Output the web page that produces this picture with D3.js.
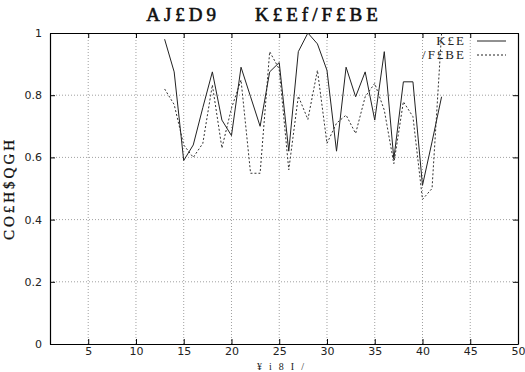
<!DOCTYPE html>
<html><head><meta charset="utf-8">
<script src="https://cdn.jsdelivr.net/npm/d3@7"></script>
<style>body{margin:0;background:#fff}svg{display:block}</style>
</head><body>
<script>
const titleText = "AJ£D9\u00a0\u00a0\u00a0\u00a0K£Ef/F£BE";
const xLabelText = "¥i8I/";
const yLabelText = "CO£H$QGH";
const seriesNames = ["K£E", "/F£BE"];
const xValues = [13,14,15,16,17,18,19,20,21,22,23,24,25,26,27,28,29,30,31,32,33,34,35,36,37,38,39,40,41,42];
const solidValues = [0.98,0.875,0.59,0.64,0.76,0.875,0.72,0.67,0.89,0.795,0.70,0.875,0.905,0.62,0.94,1.0,0.965,0.88,0.62,0.89,0.795,0.875,0.72,0.94,0.595,0.843,0.843,0.51,0.65,0.795];
const dottedValues = [0.82,0.77,0.64,0.60,0.645,0.833,0.63,0.758,0.849,0.549,0.549,0.94,0.884,0.56,0.797,0.722,0.88,0.645,0.71,0.736,0.677,0.795,0.838,0.752,0.58,0.779,0.731,0.465,0.50,1.0];
const xTicks = [5,10,15,20,25,30,35,40,45,50];
const yTicks = [0,0.2,0.4,0.6,0.8,1];

const W = 525, H = 372;
const m = {l:50, r:7, t:33, b:28};
const svg = d3.select("body").append("svg").attr("width", W).attr("height", H);
const x = d3.scaleLinear().domain([1,50]).range([m.l, W - m.r]);
const y = d3.scaleLinear().domain([0,1]).range([H - m.b, m.t]);

// grid
const g = svg.append("g");
g.selectAll(".gx").data(xTicks.filter(d => d < 50)).join("line")
  .attr("x1", d => x(d)).attr("x2", d => x(d)).attr("y1", y(0)).attr("y2", y(1))
  .attr("stroke", "#a0a0a0").attr("stroke-width", 1).attr("stroke-dasharray", "1,2");
g.selectAll(".gy").data(yTicks.filter(d => d > 0 && d < 1)).join("line")
  .attr("x1", x(1)).attr("x2", x(50)).attr("y1", d => y(d)).attr("y2", d => y(d))
  .attr("stroke", "#a0a0a0").attr("stroke-width", 1).attr("stroke-dasharray", "1,2");

// axes
const fmt = d3.format("");
svg.append("g").attr("transform", `translate(0,${y(0)})`)
  .call(d3.axisBottom(x).tickValues(xTicks).tickSizeInner(-5).tickSizeOuter(0).tickPadding(3).tickFormat(fmt));
svg.append("g").attr("transform", `translate(0,${y(1)})`)
  .call(d3.axisTop(x).tickValues(xTicks).tickSizeInner(-5).tickSizeOuter(0).tickFormat(""));
svg.append("g").attr("transform", `translate(${x(1)},0)`)
  .call(d3.axisLeft(y).tickValues(yTicks).tickSizeInner(-5).tickSizeOuter(0).tickPadding(8).tickFormat(fmt));
svg.append("g").attr("transform", `translate(${x(50)},0)`)
  .call(d3.axisRight(y).tickValues(yTicks).tickSizeInner(-5).tickSizeOuter(0).tickFormat(""));
svg.selectAll(".domain").attr("stroke", "#000").attr("stroke-width", 1.2);
svg.selectAll(".tick line").attr("stroke", "#000");
svg.selectAll(".tick text").attr("font-family", "DejaVu Sans").attr("font-size", 11).attr("fill", "#222");

// lines
const line = d3.line().x((d,i) => x(xValues[i])).y(d => y(d));
svg.append("clipPath").attr("id","c").append("rect")
  .attr("x", x(1)).attr("y", y(1)).attr("width", x(50)-x(1)).attr("height", y(0)-y(1));
svg.append("path").datum(dottedValues).attr("d", line).attr("fill","none")
  .attr("stroke","#333").attr("stroke-width",1).attr("stroke-dasharray","2,2").attr("clip-path","url(#c)");
svg.append("path").datum(solidValues).attr("d", line).attr("fill","none")
  .attr("stroke","#222").attr("stroke-width",1).attr("clip-path","url(#c)");

// legend
const legY = [41, 55];
const dashes = [null, "2,2"];
seriesNames.forEach((n, i) => {
  svg.append("text").attr("x", 466).attr("y", legY[i] + 4).attr("text-anchor","end")
    .attr("font-family","Liberation Serif").attr("font-size", 13).attr("letter-spacing", 2)
    .attr("fill","#222").text(n);
  svg.append("line").attr("x1", 477).attr("x2", 506).attr("y1", legY[i]).attr("y2", legY[i])
    .attr("stroke","#222").attr("stroke-width",1).attr("stroke-dasharray", dashes[i]);
});

// labels
svg.append("text").attr("x", 264).attr("y", 21).attr("text-anchor","middle")
  .attr("font-family","Liberation Serif").attr("font-size", 19)
  .attr("stroke","#111").attr("stroke-width",0.6)
  .attr("letter-spacing", 4).attr("fill","#111").text(titleText);
svg.append("text").attr("x", 284).attr("y", 369.5).attr("text-anchor","middle")
  .attr("font-family","Liberation Serif").attr("font-size", 10).attr("letter-spacing", 7)
  .attr("fill","#222").text(xLabelText);
svg.append("text").attr("transform", `translate(14,${(y(0)+y(1))/2}) rotate(-90)`).attr("text-anchor","middle")
  .attr("font-family","Liberation Serif").attr("font-size", 15).attr("letter-spacing", 3)
  .attr("stroke","#111").attr("stroke-width",0.3)
  .attr("fill","#111").text(yLabelText);
</script>
</body></html>
